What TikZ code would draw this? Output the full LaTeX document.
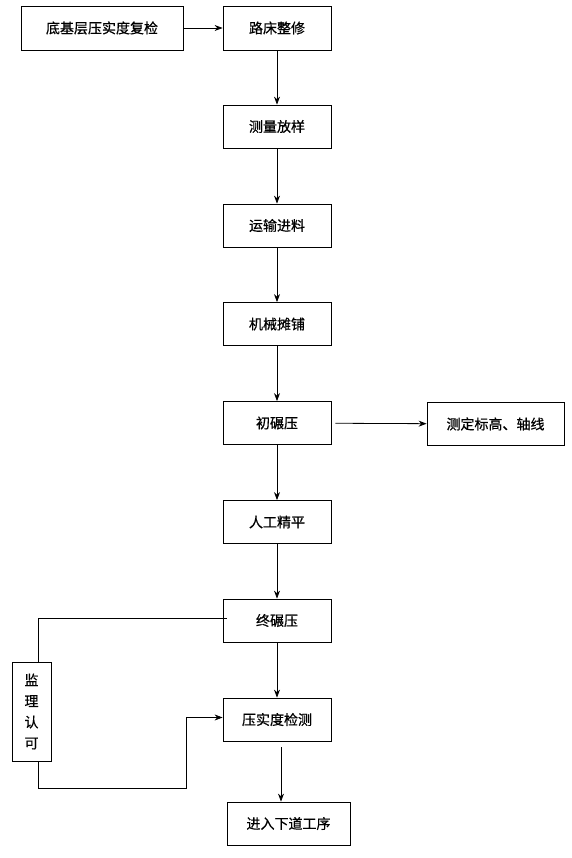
\documentclass[tikz,border=0pt]{standalone}
\usepackage{fontspec}
\newfontfamily\cjk[FakeBold=0.6]{Noto Sans CJK SC}
\usetikzlibrary{arrows.meta}

\begin{document}
\begin{tikzpicture}[x=1pt,y=-1pt,
    box/.style={draw, line width=0.8pt, inner sep=0pt, minimum height=43pt,
        font=\cjk\fontsize{14}{21}\selectfont},
    stagebox/.style={box, minimum width=108pt},
    arr/.style={line width=0.8pt, -{Stealth[length=8pt,width=6pt]}},
    link/.style={line width=0.8pt}]
        \useasboundingbox (0,0) rectangle (572,858);

        % Main flow boxes
        \node[box, minimum width=162pt, minimum height=44pt] (fujian) at (102,28) {底基层压实度复检};
        \node[stagebox, minimum height=44pt] (zhengxiu) at (277,28) {路床整修};
        \node[stagebox] (fangyang) at (277,126.5) {测量放样};
        \node[stagebox] (jinliao) at (277,225.5) {运输进料};
        \node[stagebox] (tanpu) at (277,324) {机械摊铺};
        \node[stagebox] (chuya) at (277,423) {初碾压};
        \node[box, minimum width=137pt] (biaogao) at (495.5,424) {测定标高、轴线};
        \node[stagebox] (jingping) at (277,522) {人工精平};
        \node[stagebox] (zhongya) at (277,620.5) {终碾压};
        \node[stagebox] (jiance) at (277,719.5) {压实度检测};
        \node[box, minimum width=123pt] (xiadao) at (288.5,823.5) {进入下道工序};

        % Side box
        \node[box, minimum width=39pt, minimum height=99pt, align=center] (jianli) at (31.5,711.5) {监\\理\\认\\可};
        \coordinate (huilu) at (186,788);

        % Connectors
        \draw[arr] (fujian) -- (zhengxiu);
        \draw[arr] (zhengxiu) -- (fangyang);
        \draw[arr] (fangyang) -- (jinliao);
        \draw[arr] (jinliao) -- (tanpu);
        \draw[arr] (tanpu) -- (chuya);
        \draw[arr, shorten <=4pt] (chuya) -- (biaogao);
        \draw[arr] (chuya) -- (jingping);
        \draw[arr] (jingping) -- (zhongya);
        \draw[arr] (zhongya) -- (jiance);
        \draw[link] ([xshift=4pt,yshift=2pt]zhongya.west) -| ([xshift=6.5pt]jianli.north);
        \draw[arr] ([xshift=6.5pt]jianli.south) |- (huilu) |- ([yshift=2pt]jiance.west);
        \draw[arr] ([xshift=4pt,yshift=-6pt]jiance.south) -- ([xshift=-7.5pt]xiadao.north);

    \end{tikzpicture}
\end{document}
